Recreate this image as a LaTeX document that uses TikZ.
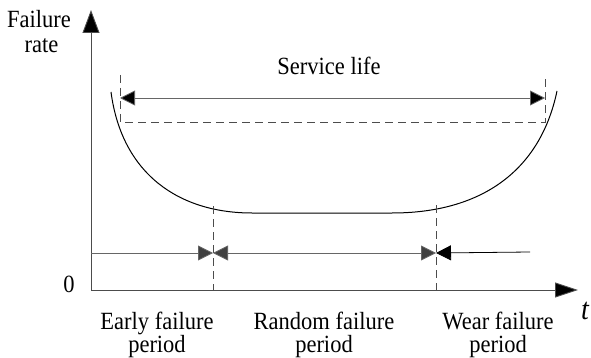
\documentclass[tikz,border=0pt]{standalone}
\usepackage{fontspec}
\setmainfont{Liberation Serif}
\usetikzlibrary{arrows.meta,positioning,calc}

% text in the reference is a little taller than wide
\newcommand{\tallbox}[1]{\scalebox{1}[1.1]{#1}}

\tikzset{
    axisline/.style={draw=black!70, line width=0.9pt},
    guide/.style={draw=black!70, line width=0.8pt, dash pattern=on 8pt off 5pt},
    span/.style={draw=black!60, line width=0.8pt},
    lbl/.style={font=\fontsize{22.5}{22}\selectfont, inner sep=0pt, anchor=base},
    headk/.tip={Triangle[length=15pt,width=15pt,fill=black]},
    headg/.tip={Triangle[length=15pt,width=15pt,fill=black!75]},
}

\begin{document}
\begin{tikzpicture}[x=1pt,y=-1pt]
        \useasboundingbox (0,0) rectangle (591,358);

        % Axes
        \coordinate (o) at (91,290);
        \coordinate (ytop) at (91,10);
        \coordinate (xend) at (578,290);
        \draw[axisline, -{Triangle[length=23pt,width=17pt,fill=black]}] (o) -- (ytop);
        \draw[axisline, -{Triangle[length=23pt,width=15pt,fill=black]}] (o) -- (xend);
        \node[lbl] (zero) at (69,292) {\tallbox{0}};
        \node[lbl] (ylab) at (39,28) {\tallbox{Failure}};
        \node[lbl] (ylab2) at (41.5,53) {\tallbox{rate}};
        \node[font=\fontsize{28}{28}\selectfont\itshape, inner sep=0pt, anchor=base] (tlab) at (585,319) {\tallbox{t}};

        % Bathtub curve
        \coordinate (c1) at (111,92);
        \coordinate (c2) at (252,213);
        \coordinate (c3) at (392,213);
        \coordinate (c4) at (557,91);
        \draw[line width=1pt] (c1) .. controls (122,175) and (180,213) .. (c2)
            -- (c3) .. controls (480,213) and (540,172) .. (c4);

        % Service life
        \coordinate (sl) at (120,98);
        \coordinate (sr) at (545,98);
        \draw[guide] (120,75) -- (120,122) -- (545,122) -- (545,75);
        \draw[span, headk-headk] (sl) -- (sr);
        \node[lbl] (life) at (329,75) {\tallbox{Service life}};

        % Period boundaries
        \coordinate (b1) at (213,253);
        \coordinate (b2) at (436,253);
        \draw[guide] (213,206) -- (213,290);
        \draw[guide] (436,205) -- (436,290);

        % Period arrows
        \coordinate (pl) at (91,253);
        \coordinate (pr) at (530,252);
        \draw[span, -headg] (pl) -- (b1);
        \draw[span, headg-headg] (b1) -- (b2);
        \draw[line width=0.8pt, -headk] (pr) -- (b2);

        % Period labels
        \node[lbl] (early) at (157,329) {\tallbox{Early failure}};
        \node[lbl] (early2) at (157,352) {\tallbox{period}};
        \node[lbl] (random) at (324,329) {\tallbox{Random failure}};
        \node[lbl] (random2) at (324,352) {\tallbox{period}};
        \node[lbl] (wear) at (498,329) {\tallbox{Wear failure}};
        \node[lbl] (wear2) at (498,352) {\tallbox{period}};
    \end{tikzpicture}
\end{document}
